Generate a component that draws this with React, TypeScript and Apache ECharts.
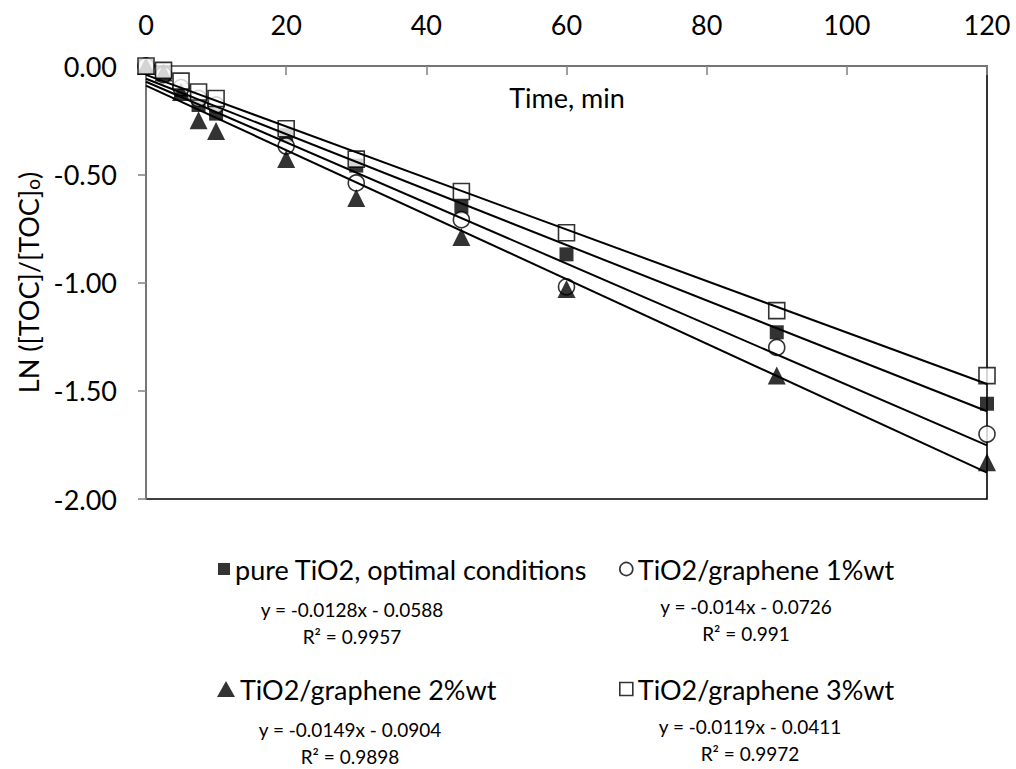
import React, { useEffect, useRef } from "react";
import * as echarts from "echarts";

const times = [0, 2.5, 5, 7.5, 10, 20, 30, 45, 60, 90, 120];
const seriesNames = [
  "pure TiO2, optimal conditions",
  "TiO2/graphene 1%wt",
  "TiO2/graphene 2%wt",
  "TiO2/graphene 3%wt",
];
const pureTiO2 = [0, -0.03, -0.11, -0.18, -0.22, -0.32, -0.46, -0.65, -0.87, -1.23, -1.56];
const graphene1 = [0, -0.04, -0.1, -0.15, -0.18, -0.37, -0.54, -0.71, -1.02, -1.3, -1.7];
const graphene2 = [0, -0.03, -0.12, -0.25, -0.3, -0.43, -0.61, -0.79, -1.03, -1.43, -1.83];
const graphene3 = [0, -0.02, -0.07, -0.12, -0.15, -0.29, -0.43, -0.58, -0.77, -1.13, -1.43];
const slopes = [-0.0128, -0.014, -0.0149, -0.0119];
const intercepts = [-0.0588, -0.0726, -0.0904, -0.0411];
const equations = [
  "y = -0.0128x - 0.0588",
  "y = -0.014x - 0.0726",
  "y = -0.0149x - 0.0904",
  "y = -0.0119x - 0.0411",
];
const r2Labels = ["R² = 0.9957", "R² = 0.991", "R² = 0.9898", "R² = 0.9972"];
const xTicks = { min: 0, max: 120, interval: 20 };
const yTicks = { min: -2, max: 0, interval: 0.5 };

const FONT = "Lato";
const BIG = 27;

export default function App() {
  const ref = useRef<HTMLDivElement>(null);
  useEffect(() => {
    if (!ref.current) return;
    const chart = echarts.init(ref.current, undefined, { renderer: "svg" });
    const values = [pureTiO2, graphene1, graphene2, graphene3];
    const symbols = ["rect", "circle", "triangle", "rect"];
    const sizes = [14, 16, 18, 16];
    const hollow = [false, true, false, true];

    const scatter = values.map((vals, i) => ({
      type: "scatter",
      name: seriesNames[i],
      data: times.map((t, j) => [t, vals[j]]),
      symbol: symbols[i],
      symbolSize: sizes[i],
      itemStyle: hollow[i]
        ? { color: "#fff", borderColor: "#000", borderWidth: 1.6 }
        : { color: "#000", borderColor: "#000", borderWidth: 0 },
      z: 2,
    }));
    const trends = slopes.map((m, i) => ({
      type: "line",
      name: "trend" + i,
      data: [
        [xTicks.min, intercepts[i] + m * xTicks.min],
        [xTicks.max, intercepts[i] + m * xTicks.max],
      ],
      showSymbol: false,
      symbol: "none",
      lineStyle: { color: "#000", width: 2 },
      silent: true,
      z: 3,
    }));

    const legendPos = [
      { left: 218, top: 554, w: 12, h: 12 },
      { left: 619, top: 554, w: 13, h: 13 },
      { left: 217, top: 674, w: 18, h: 16 },
      { left: 619, top: 674, w: 13, h: 13 },
    ];
    const legends = seriesNames.map((n, i) => ({
      show: true,
      left: legendPos[i].left,
      top: legendPos[i].top,
      padding: 0,
      itemWidth: legendPos[i].w,
      itemHeight: legendPos[i].h,
      selectedMode: false,
      data: [
        {
          name: n,
          icon: symbols[i],
          itemStyle: hollow[i]
            ? { color: "#fff", borderColor: "#000", borderWidth: 1.6 }
            : { color: "#000", borderWidth: 0 },
        },
      ],
      textStyle: { fontFamily: FONT, fontSize: BIG, color: "#000", lineHeight: 30 },
    }));

    const eqPos = [
      { x: 352, y: 609 },
      { x: 746, y: 606 },
      { x: 350, y: 729 },
      { x: 750, y: 726 },
    ];
    const graphics: any[] = [
      {
        type: "text",
        x: 567,
        y: 97,
        style: {
          text: "Time, min",
          fontFamily: FONT,
          fontSize: BIG,
          fill: "#000",
          textAlign: "center",
          textVerticalAlign: "middle",
        },
      },
    ];
    eqPos.forEach((p, i) => {
      graphics.push({
        type: "text",
        x: p.x,
        y: p.y,
        style: {
          text: equations[i],
          fontFamily: FONT,
          fontSize: 19,
          fill: "#000",
          textAlign: "center",
          textVerticalAlign: "middle",
        },
      });
      graphics.push({
        type: "text",
        x: p.x,
        y: p.y + 27,
        style: {
          text: r2Labels[i],
          fontFamily: FONT,
          fontSize: 19,
          fill: "#000",
          textAlign: "center",
          textVerticalAlign: "middle",
        },
      });
    });

    chart.setOption({
      animation: false,
      backgroundColor: "#fff",
      textStyle: { fontFamily: FONT },
      grid: {
        left: 146,
        right: 29,
        top: 66,
        bottom: 270,
        show: true,
        borderColor: "#000",
        borderWidth: 1.6,
        backgroundColor: "transparent",
      },
      xAxis: {
        type: "value",
        position: "top",
        min: xTicks.min,
        max: xTicks.max,
        interval: xTicks.interval,
        axisLine: { show: true, onZero: false, lineStyle: { color: "#888", width: 1.6 } },
        axisTick: { show: true, inside: true, length: 9, lineStyle: { color: "#888", width: 1.6 } },
        axisLabel: { fontFamily: FONT, fontSize: BIG, color: "#000", margin: 28 },
        splitLine: { show: false },
      },
      yAxis: {
        type: "value",
        min: yTicks.min,
        max: yTicks.max,
        interval: yTicks.interval,
        name: "LN ([TOC]/[TOC]{sub|o})",
        nameLocation: "middle",
        nameRotate: 90,
        nameGap: 104,
        nameTextStyle: {
          fontFamily: FONT,
          fontSize: BIG,
          color: "#000",
          rich: {
            sub: { fontFamily: FONT, fontSize: 19, color: "#000", verticalAlign: "bottom", lineHeight: 12 },
          },
        },
        axisLine: { show: true, onZero: false, lineStyle: { color: "#888", width: 1.6 } },
        axisTick: { show: true, inside: false, length: 8, lineStyle: { color: "#888", width: 1.6 } },
        axisLabel: {
          fontFamily: FONT,
          fontSize: BIG,
          color: "#000",
          margin: 29,
          formatter: (v: number) => v.toFixed(2),
        },
        splitLine: { show: false },
      },
      legend: legends,
      graphic: graphics,
      series: [...scatter, ...trends],
    });
    return () => chart.dispose();
  }, []);
  return (
    <div
      ref={ref}
      style={{ position: "fixed", left: 0, top: 0, width: 1016, height: 769, background: "#fff" }}
    />
  );
}
